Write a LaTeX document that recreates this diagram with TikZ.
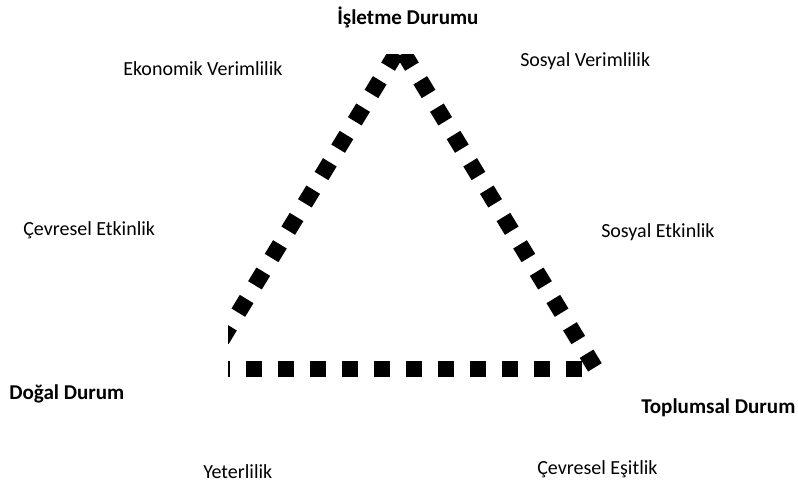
\documentclass[tikz,border=0pt]{standalone}
\usepackage{fontspec}
\setmainfont{Carlito}
\begin{document}
\begin{tikzpicture}[x=0.75pt,y=-0.75pt,
  lbl/.style={anchor=base west,inner sep=0pt,font=\fontsize{15}{18}\selectfont},
  blbl/.style={lbl,font=\fontsize{15.8}{18}\selectfont\bfseries},
  dotline/.style={line width=12pt,line cap=butt,dash pattern=on 12pt off 12pt}]
\useasboundingbox (0,0) rectangle (798,484);
\coordinate (apex) at (400,47);
\coordinate (lend) at (221.7,340);
\coordinate (rend) at (594.9,367.4);
\coordinate (br) at (582,368.5);
\coordinate (bl) at (220,368.5);
\begin{scope}
\clip (228,55) rectangle (798,484);
\draw[dotline,dash phase=18.75pt] (apex) -- (lend);
\draw[dotline,dash phase=18.75pt] (apex) -- (rend);
\draw[dotline] (br) -- (bl);
\end{scope}
\node[blbl] (top) at (337,25) {İşletme Durumu};
\node[lbl] (ekv) at (123,76) {Ekonomik Verimlilik};
\node[lbl] (sv) at (520,67) {Sosyal Verimlilik};
\node[lbl] (ce) at (23,236) {Çevresel Etkinlik};
\node[lbl] (se) at (601,238) {Sosyal Etkinlik};
\node[blbl] (dd) at (9,399) {Doğal Durum};
\node[blbl] (td) at (641,413) {Toplumsal Durum};
\node[lbl] (yet) at (203,478) {Yeterlilik};
\node[lbl] (ces) at (537,474) {Çevresel Eşitlik};
\end{tikzpicture}
\end{document}
